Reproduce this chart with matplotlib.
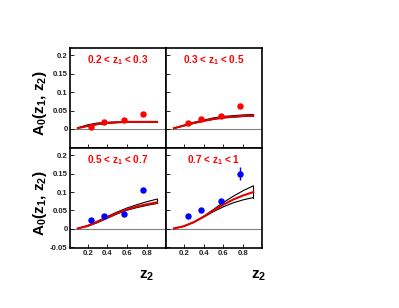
import matplotlib.pyplot as plt

plt.rcParams["font.family"] = "Liberation Sans"
plt.rcParams["mathtext.fontset"] = "custom"
plt.rcParams["mathtext.rm"] = "Liberation Sans:bold"
plt.rcParams["mathtext.bf"] = "Liberation Sans:bold"
plt.rcParams["mathtext.it"] = "Liberation Sans:bold"
plt.rcParams["mathtext.default"] = "bf"

# measured points per z1 bin
bins = ["0.2 < z$_1$ < 0.3", "0.3 < z$_1$ < 0.5", "0.5 < z$_1$ < 0.7", "0.7 < z$_1$ < 1"]
pt_colors = ["red", "red", "blue", "blue"]
z2_pts = [
    [0.238, 0.369, 0.567, 0.755],
    [0.240, 0.370, 0.574, 0.766],
    [0.238, 0.369, 0.567, 0.755],
    [0.240, 0.370, 0.574, 0.766],
]
a0_pts = [
    [0.004, 0.020, 0.024, 0.041],
    [0.016, 0.026, 0.035, 0.063],
    [0.025, 0.034, 0.040, 0.105],
    [0.034, 0.050, 0.076, 0.150],
]
a0_err = [
    [0.0, 0.0, 0.0, 0.0],
    [0.0, 0.0, 0.0, 0.0],
    [0.0, 0.0, 0.0, 0.0],
    [0.0, 0.0, 0.0, 0.017],
]

# model curves
z2_curve = [0.1, 0.2, 0.3, 0.4, 0.5, 0.6, 0.7, 0.8, 0.9]
curve_mid = [
    [0.002, 0.008, 0.013, 0.016, 0.018, 0.019, 0.019, 0.019, 0.019],
    [0.002, 0.009, 0.016, 0.022, 0.027, 0.031, 0.033, 0.035, 0.036],
    [0.001, 0.008, 0.019, 0.031, 0.043, 0.053, 0.061, 0.067, 0.072],
    [0.001, 0.007, 0.018, 0.033, 0.050, 0.066, 0.080, 0.091, 0.100],
]
curve_hi = [
    [0.003, 0.011, 0.016, 0.018, 0.019, 0.020, 0.020, 0.020, 0.020],
    [0.002, 0.010, 0.018, 0.024, 0.030, 0.034, 0.036, 0.038, 0.039],
    [0.001, 0.009, 0.021, 0.034, 0.046, 0.057, 0.066, 0.074, 0.081],
    [0.001, 0.007, 0.018, 0.034, 0.053, 0.072, 0.089, 0.104, 0.117],
]
curve_lo = [
    [0.002, 0.008, 0.012, 0.015, 0.017, 0.018, 0.018, 0.018, 0.018],
    [0.001, 0.008, 0.015, 0.021, 0.026, 0.030, 0.032, 0.034, 0.035],
    [0.001, 0.007, 0.017, 0.029, 0.041, 0.051, 0.058, 0.064, 0.069],
    [0.001, 0.007, 0.018, 0.032, 0.047, 0.060, 0.071, 0.079, 0.085],
]

yticks = [0, 0.05, 0.1, 0.15, 0.2]
ytick_labels = ["0", "0.05", "0.1", "0.15", "0.2"]
xticks = [0.2, 0.4, 0.6, 0.8]
xtick_labels = ["0.2", "0.4", "0.6", "0.8"]

fig = plt.figure(figsize=(3.99, 3.08), dpi=100)
gs = fig.add_gridspec(2, 2, left=0.175, right=0.657, top=0.844, bottom=0.195,
                      wspace=0, hspace=0)

for i in range(4):
    r, c = divmod(i, 2)
    ax = fig.add_subplot(gs[r, c])
    ax.set_xlim(0.02, 0.99)
    ax.set_ylim(-0.052, 0.22)
    ax.axhline(0, color="gray", lw=0.8, zorder=1)

    ax.fill_between(z2_curve, curve_lo[i], curve_hi[i], facecolor="white",
                    edgecolor="none", zorder=2)
    ax.plot(z2_curve, curve_hi[i], color="black", lw=0.8, zorder=3)
    ax.plot(z2_curve, curve_lo[i], color="black", lw=0.8, zorder=3)
    ax.plot([z2_curve[-1], z2_curve[-1]], [curve_lo[i][-1], curve_hi[i][-1]],
            color="black", lw=0.8, zorder=3)
    ax.plot(z2_curve, curve_mid[i], color="#e00000", lw=1.5, zorder=4)

    ax.errorbar(z2_pts[i], a0_pts[i], yerr=a0_err[i], fmt="o", color=pt_colors[i],
                ms=3.6, elinewidth=1, capsize=0, zorder=5)

    ax.text(0.5, 0.875, bins[i], color="red", fontsize=7.2, fontweight="bold",
            ha="center", va="center", transform=ax.transAxes)

    ax.set_xticks(xticks)
    if r == 0:
        ax.set_yticks(yticks)
        ylabs = ytick_labels
    else:
        ax.set_yticks([-0.05] + yticks)
        ylabs = ["-0.05"] + ytick_labels
    ax.tick_params(direction="in", length=3, width=0.6, labelsize=5.6,
                   pad=1.5, colors="black", labelcolor="#222222")
    if c == 1:
        ax.set_yticklabels([])
    else:
        ax.set_yticklabels(ylabs)
    if r == 0:
        ax.set_xticklabels([])
    else:
        ax.set_xticklabels(xtick_labels)
    for lab in ax.get_xticklabels() + ax.get_yticklabels():
        lab.set_fontweight("bold")
    for s in ax.spines.values():
        s.set_linewidth(1.2)

    if c == 0:
        ax.set_ylabel("A$_0$(z$_1$, z$_2$)", fontsize=11, fontweight="bold")
        ax.yaxis.set_label_coords(-0.215, 0.45)
    if r == 1:
        ax.text(0.8 if c == 0 else 0.96, -0.28, "z$_2$", fontsize=11,
                fontweight="bold", ha="center", va="center", transform=ax.transAxes)

plt.savefig("out.png", dpi=100)
